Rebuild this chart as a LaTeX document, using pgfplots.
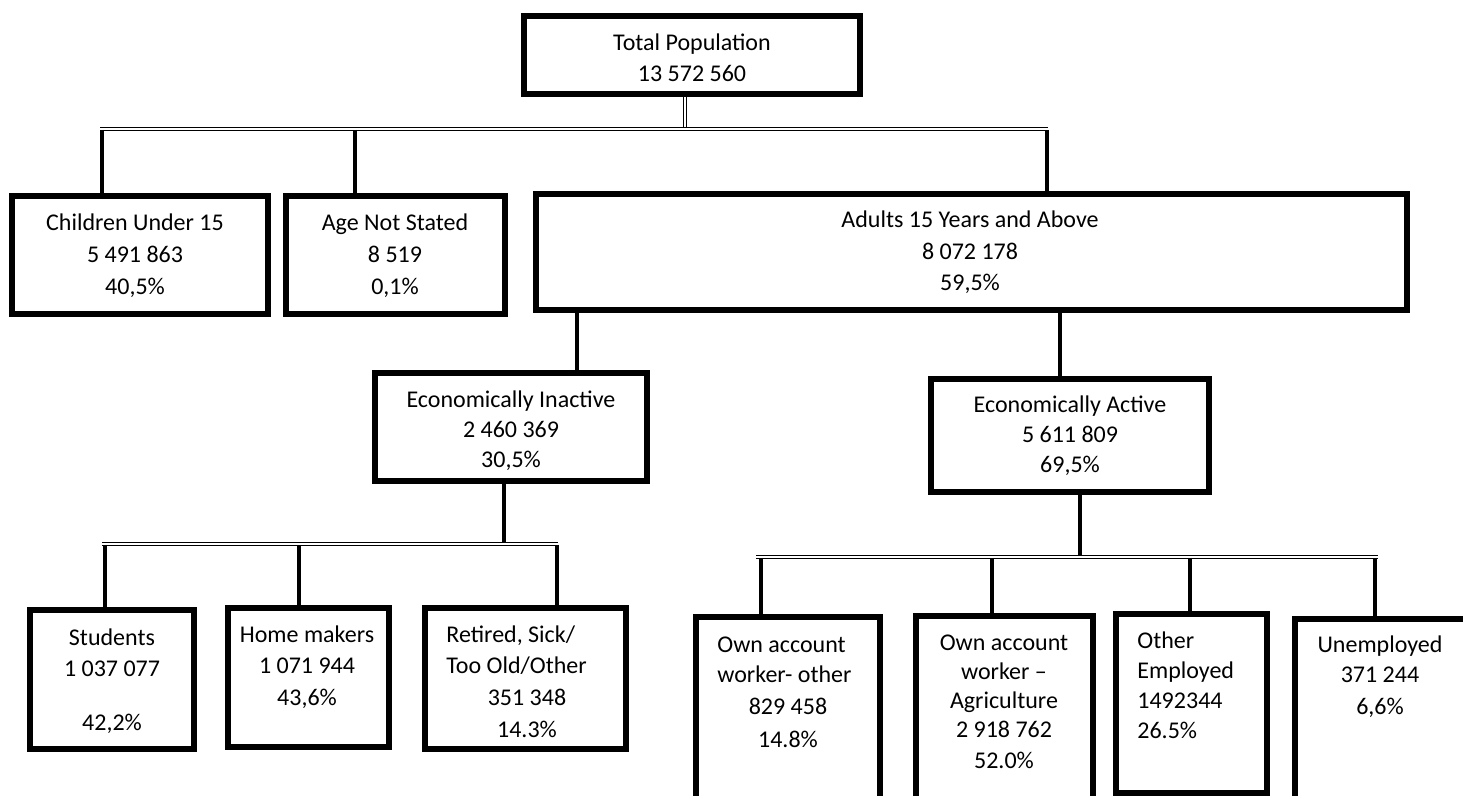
\documentclass[border=0pt]{standalone}
\usepackage{fontspec}
\setmainfont{Carlito}
\usepackage{pgfplots}
\pgfplotsset{compat=1.18}
\tikzset{
  box/.style={black, line width=2.75pt, line join=miter, line cap=rect},
  conn/.style={black, line width=2pt},
  dbl/.style={black, line width=0.5pt, double=white, double distance=0.8pt},
  lbl/.style={font=\fontsize{12}{14}\selectfont, inner sep=0pt, text height=7.7pt, text depth=0pt, anchor=center},
  lbll/.style={font=\fontsize{12}{14}\selectfont, inner sep=0pt, text height=7.7pt, text depth=0pt, anchor=west},
}
\begin{document}
\begin{tikzpicture}
\begin{axis}[
  scale only axis, width=731.5pt, height=398pt,
  xmin=0, xmax=1463, ymin=0, ymax=796, y dir=reverse,
  hide axis, clip=true,
]
% connectors
\addplot[dbl, mark=none] coordinates {(685,97) (685,129)};
\addplot[dbl, mark=none] coordinates {(100,129) (1048,129)};
\addplot[conn, mark=none] coordinates {(102,130) (102,194)};
\addplot[conn, mark=none] coordinates {(355,130) (355,194)};
\addplot[conn, mark=none] coordinates {(1047,130) (1047,192)};
\addplot[conn, mark=none] coordinates {(577,312) (577,371)};
\addplot[conn, mark=none] coordinates {(1060,312) (1060,377)};
\addplot[conn, mark=none] coordinates {(504,483) (504,544)};
\addplot[dbl, mark=none] coordinates {(102,544) (558,544)};
\addplot[conn, mark=none] coordinates {(105,545) (105,608)};
\addplot[conn, mark=none] coordinates {(299,545) (299,606)};
\addplot[conn, mark=none] coordinates {(557,545) (557,606)};
\addplot[conn, mark=none] coordinates {(1080,494) (1080,556)};
\addplot[dbl, mark=none] coordinates {(756,557) (1378,557)};
\addplot[conn, mark=none] coordinates {(761,558) (761,620)};
\addplot[conn, mark=none] coordinates {(992,558) (992,614)};
\addplot[conn, mark=none] coordinates {(1190,558) (1190,616)};
\addplot[conn, mark=none] coordinates {(1375,558) (1375,620)};
% boxes
\addplot[box, mark=none] coordinates {(524,16) (860,16) (860,94) (524,94) (524,16)};
\addplot[box, mark=none] coordinates {(12,196) (268,196) (268,314) (12,314) (12,196)};
\addplot[box, mark=none] coordinates {(286,196) (505,196) (505,314) (286,314) (286,196)};
\addplot[box, mark=none] coordinates {(536,194) (1407,194) (1407,310) (536,310) (536,194)};
\addplot[box, mark=none] coordinates {(375,373) (647,373) (647,481) (375,481) (375,373)};
\addplot[box, mark=none] coordinates {(931,379) (1209,379) (1209,492) (931,492) (931,379)};
\addplot[box, mark=none] coordinates {(30,610) (194,610) (194,749) (30,749) (30,610)};
\addplot[box, mark=none] coordinates {(228,608) (389,608) (389,747) (228,747) (228,608)};
\addplot[box, mark=none] coordinates {(425,608) (626,608) (626,749) (425,749) (425,608)};
\addplot[box, mark=none] coordinates {(696,830) (696,617) (880,617) (880,830)};
\addplot[box, mark=none] coordinates {(916,830) (916,616) (1093,616) (1093,830)};
\addplot[box, mark=none] coordinates {(1116,614) (1267,614) (1267,793) (1116,793) (1116,614)};
\addplot[box, mark=none] coordinates {(1295,830) (1295,619) (1520,619)};
% labels
\node[lbl] at (axis cs:692,43) {Total Population};
\node[lbl] at (axis cs:692,74) {13 572 560};
\node[lbl] at (axis cs:135,223) {Children Under 15};
\node[lbl] at (axis cs:135,255) {5 491 863};
\node[lbl] at (axis cs:135,287) {40,5\%};
\node[lbl] at (axis cs:395,223) {Age Not Stated};
\node[lbl] at (axis cs:395,255) {8 519};
\node[lbl] at (axis cs:395,287) {0,1\%};
\node[lbl] at (axis cs:970,220) {Adults 15 Years and Above};
\node[lbl] at (axis cs:970,252) {8 072 178};
\node[lbl] at (axis cs:970,283) {59,5\%};
\node[lbl] at (axis cs:511,400) {Economically Inactive};
\node[lbl] at (axis cs:511,430) {2 460 369};
\node[lbl] at (axis cs:511,460) {30,5\%};
\node[lbl] at (axis cs:1070,405) {Economically Active};
\node[lbl] at (axis cs:1070,435) {5 611 809};
\node[lbl] at (axis cs:1070,465) {69,5\%};
\node[lbl] at (axis cs:112,638) {Students};
\node[lbl] at (axis cs:112,669) {1 037 077};
\node[lbl] at (axis cs:112,723) {42,2\%};
\node[lbl] at (axis cs:307,635) {Home makers};
\node[lbl] at (axis cs:307,666) {1 071 944};
\node[lbl] at (axis cs:307,698) {43,6\%};
\node[lbll] at (axis cs:446,635) {Retired, Sick/};
\node[lbll] at (axis cs:446,666) {Too Old/Other};
\node[lbl] at (axis cs:527,698) {351 348};
\node[lbl] at (axis cs:527,730) {14.3\%};
\node[lbll] at (axis cs:717,645) {Own account};
\node[lbll] at (axis cs:717,675) {worker- other};
\node[lbl] at (axis cs:788,707) {829 458};
\node[lbl] at (axis cs:788,740) {14.8\%};
\node[lbl] at (axis cs:1004,643) {Own account};
\node[lbl] at (axis cs:1004,672) {worker --};
\node[lbl] at (axis cs:1004,701) {Agriculture};
\node[lbl] at (axis cs:1004,730) {2 918 762};
\node[lbl] at (axis cs:1004,761) {52.0\%};
\node[lbll] at (axis cs:1137,641) {Other};
\node[lbll] at (axis cs:1137,671) {Employed};
\node[lbll] at (axis cs:1137,701) {1492344};
\node[lbll] at (axis cs:1137,731) {26.5\%};
\node[lbl] at (axis cs:1380,645) {Unemployed};
\node[lbl] at (axis cs:1380,675) {371 244};
\node[lbl] at (axis cs:1380,707) {6,6\%};
\end{axis}
\pgfresetboundingbox
\useasboundingbox (current axis.south west) rectangle (current axis.north east);
\end{tikzpicture}
\end{document}
